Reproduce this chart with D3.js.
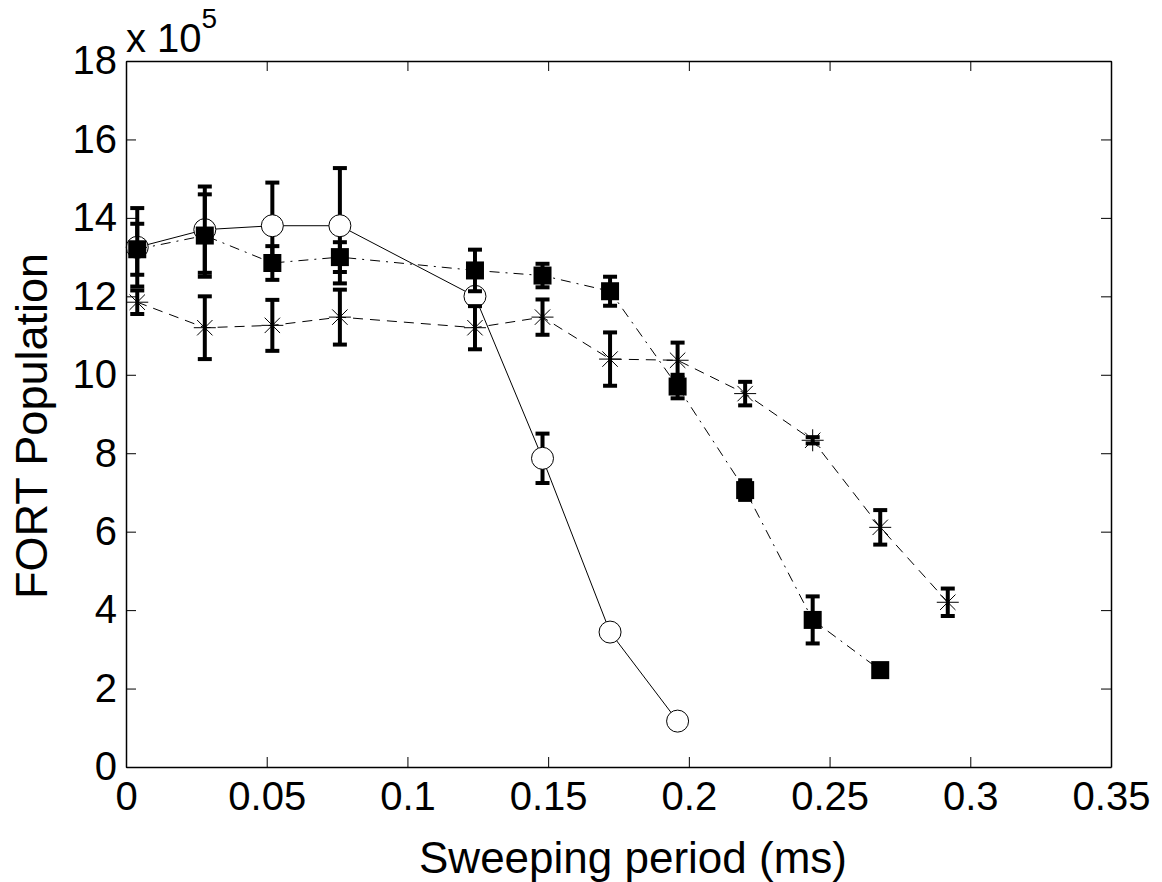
<!DOCTYPE html>
<html>
<head>
<meta charset="utf-8">
<script src="https://cdn.jsdelivr.net/npm/d3@7"></script>
<style>
  html, body { margin: 0; padding: 0; background: #fff; }
  svg text { font-family: "Liberation Sans", Arial, Helvetica, sans-serif; fill: #000; }
</style>
</head>
<body>
<svg id="chart" width="1162" height="882"></svg>
<script>
// sweeping period (ms)
const period = [0.004, 0.028, 0.052, 0.076, 0.124, 0.148, 0.172, 0.196, 0.22, 0.244, 0.268, 0.292];

// open circles, solid line (x 10^5)
const circleMean = [13.25, 13.7, 13.8, 13.8, 12.0, 7.87, 3.44, 1.17];
const circleErr  = [1.0, 1.1, 1.1, 1.47, 0.15, 0.63, 0, 0];

// filled squares, dash-dot line
const squareMean = [13.2, 13.55, 12.85, 13.0, 12.66, 12.53, 12.13, 9.7, 7.06, 3.75, 2.47];
const squareErr  = [0.65, 1.05, 0.43, 0.38, 0.53, 0.3, 0.37, 0.3, 0.25, 0.6, 0];

// asterisks, dashed line
const starMean = [11.85, 11.2, 11.26, 11.47, 11.2, 11.47, 10.4, 10.37, 9.52, 8.33, 6.11, 4.2];
const starErr  = [0.3, 0.8, 0.65, 0.7, 0.55, 0.45, 0.68, 0.45, 0.3, 0.08, 0.44, 0.35];

const xTicks = [0, 0.05, 0.1, 0.15, 0.2, 0.25, 0.3, 0.35];
const yTicks = [0, 2, 4, 6, 8, 10, 12, 14, 16, 18];

const margin = { top: 61, right: 51, bottom: 115, left: 126 };
const W = 1162, H = 882;
const width = W - margin.left - margin.right;
const height = H - margin.top - margin.bottom;

const svg = d3.select("#chart");
const g = svg.append("g")
  .attr("transform", `translate(${margin.left},${margin.top})`);

const x = d3.scaleLinear().domain([0, 0.35]).range([0, width]);
const y = d3.scaleLinear().domain([0, 18]).range([height, 0]);

// build point lists from the arrays
function toPoints(means, errs) {
  return means.map((m, i) => ({ x: period[i], y: m, e: errs[i] }));
}

const series = [
  { name: "circle", pts: toPoints(circleMean, circleErr), dash: null },
  { name: "square", pts: toPoints(squareMean, squareErr), dash: "10,6,2,6" },
  { name: "star", pts: toPoints(starMean, starErr), dash: "10,7" }
];

const line = d3.line().x(d => x(d.x)).y(d => y(d.y));
const capW = 7;

series.forEach(s => {
  const sg = g.append("g").attr("class", "series-" + s.name);

  // error bars
  const bars = sg.selectAll("g.bar")
    .data(s.pts.filter(d => d.e > 0))
    .join("g")
    .attr("class", "bar")
    .attr("stroke", "#000")
    .attr("stroke-width", 4);
  bars.append("line")
    .attr("x1", d => x(d.x)).attr("x2", d => x(d.x))
    .attr("y1", d => y(d.y + d.e)).attr("y2", d => y(d.y - d.e));
  bars.append("line")
    .attr("x1", d => x(d.x) - capW).attr("x2", d => x(d.x) + capW)
    .attr("y1", d => y(d.y + d.e)).attr("y2", d => y(d.y + d.e));
  bars.append("line")
    .attr("x1", d => x(d.x) - capW).attr("x2", d => x(d.x) + capW)
    .attr("y1", d => y(d.y - d.e)).attr("y2", d => y(d.y - d.e));

  // connecting line
  sg.append("path")
    .datum(s.pts)
    .attr("fill", "none")
    .attr("stroke", "#000")
    .attr("stroke-width", 1)
    .attr("stroke-dasharray", s.dash)
    .attr("d", line);

  // markers
  if (s.name === "circle") {
    sg.selectAll("circle")
      .data(s.pts)
      .join("circle")
      .attr("cx", d => x(d.x))
      .attr("cy", d => y(d.y))
      .attr("r", 11)
      .attr("fill", "#fff")
      .attr("stroke", "#000")
      .attr("stroke-width", 1);
  } else if (s.name === "square") {
    sg.selectAll("rect")
      .data(s.pts)
      .join("rect")
      .attr("x", d => x(d.x) - 9)
      .attr("y", d => y(d.y) - 9)
      .attr("width", 18)
      .attr("height", 18)
      .attr("fill", "#000");
  } else {
    const r = 11;
    const star = `M${-r},0L${r},0M0,${-r}L0,${r}` +
      `M${-r * 0.7},${-r * 0.7}L${r * 0.7},${r * 0.7}M${-r * 0.7},${r * 0.7}L${r * 0.7},${-r * 0.7}`;
    sg.selectAll("path.star")
      .data(s.pts)
      .join("path")
      .attr("class", "star")
      .attr("transform", d => `translate(${x(d.x)},${y(d.y)})`)
      .attr("d", star)
      .attr("fill", "none")
      .attr("stroke", "#000")
      .attr("stroke-width", 1);
  }
});

// axes, ticks pointing inward on all four sides
const fmt = d => String(+d.toFixed(2));
g.append("g")
  .attr("transform", `translate(0,${height})`)
  .call(d3.axisBottom(x).tickValues(xTicks).tickFormat(fmt).tickSizeInner(-10).tickSizeOuter(0).tickPadding(15));
g.append("g")
  .call(d3.axisLeft(y).tickValues(yTicks).tickSizeInner(-10).tickSizeOuter(0).tickPadding(9));
g.append("g")
  .call(d3.axisTop(x).tickValues(xTicks).tickFormat("").tickSizeInner(-10).tickSizeOuter(0));
g.append("g")
  .attr("transform", `translate(${width},0)`)
  .call(d3.axisRight(y).tickValues(yTicks).tickFormat("").tickSizeInner(-10).tickSizeOuter(0));

g.selectAll(".domain").attr("stroke", "#000").attr("stroke-width", 1.5);
g.selectAll(".tick line").attr("stroke", "#000").attr("stroke-width", 1);
g.selectAll(".tick text")
  .style("font-family", '"Liberation Sans", Arial, sans-serif')
  .style("font-size", "40px")
  .attr("fill", "#000");

// exponent label
const expo = svg.append("text")
  .attr("x", margin.left)
  .attr("y", 52)
  .style("font-size", "40px");
expo.append("tspan").text("x 10");
expo.append("tspan").attr("dy", -24).style("font-size", "28px").text("5");

// axis titles
svg.append("text")
  .attr("x", 633)
  .attr("y", 873)
  .attr("text-anchor", "middle")
  .style("font-size", "44px")
  .text("Sweeping period (ms)");

svg.append("text")
  .attr("transform", "translate(47,426) rotate(-90)")
  .attr("text-anchor", "middle")
  .style("font-size", "45px")
  .text("FORT Population");
</script>
</body>
</html>
